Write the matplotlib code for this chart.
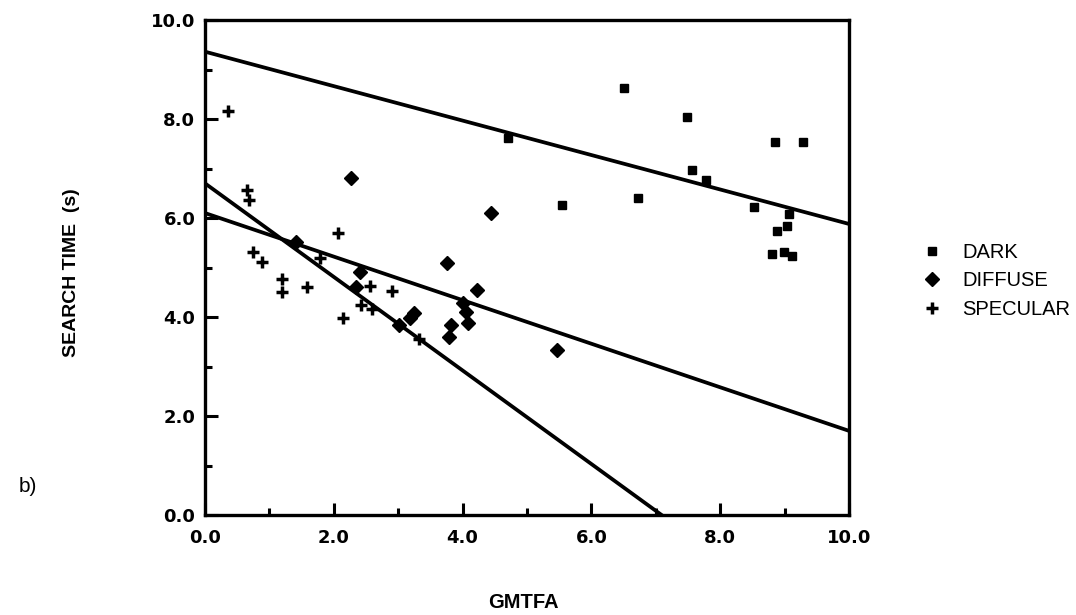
import numpy as np
import matplotlib
matplotlib.use("Agg")
import matplotlib.pyplot as plt
from matplotlib.ticker import MultipleLocator, FormatStrFormatter

plt.rcParams['font.family'] = ['Liberation Sans', 'DejaVu Sans']

# search time vs GMTFA, three lighting conditions
dark_x = [4.70, 5.55, 6.51, 6.72, 7.49, 7.56, 7.78, 8.52, 8.85, 9.29,
          8.88, 9.03, 9.07, 8.80, 8.99, 9.11]
dark_y = [7.62, 6.26, 8.62, 6.40, 8.05, 6.97, 6.77, 6.23, 7.54, 7.54,
          5.74, 5.84, 6.08, 5.27, 5.32, 5.23]

diffuse_x = [2.26, 1.41, 2.40, 2.35, 3.01, 3.18, 3.24, 3.75, 4.23, 4.00,
             4.05, 4.08, 3.82, 3.79, 4.44, 5.47]
diffuse_y = [6.80, 5.52, 4.90, 4.60, 3.84, 3.98, 4.08, 5.10, 4.55, 4.29,
             4.11, 3.87, 3.84, 3.60, 6.11, 3.33]

specular_x = [0.36, 0.65, 0.69, 0.74, 0.89, 1.19, 1.19, 1.59, 1.79, 2.07,
              2.14, 2.43, 2.56, 2.60, 2.90, 3.32]
specular_y = [8.16, 6.57, 6.36, 5.32, 5.12, 4.76, 4.51, 4.61, 5.19, 5.70,
              3.97, 4.24, 4.63, 4.16, 4.53, 3.55]

# fitted lines (intercept, slope)
dark_fit = (9.36, -0.348)
diffuse_fit = (6.10, -0.44)
specular_fit = (6.70, -0.945)

fig = plt.figure(figsize=(10.76, 6.15), dpi=100)
ax = fig.add_axes([205/1076, 100/615, 644/1076, 495/615])

xs = np.linspace(0, 10, 200)
for b0, b1 in (dark_fit, diffuse_fit, specular_fit):
    ax.plot(xs, b0 + b1*xs, color='black', lw=2.7, zorder=2)

ax.plot(dark_x, dark_y, 's', color='black', ms=6, ls='none', label='DARK', zorder=3)
ax.plot(diffuse_x, diffuse_y, 'D', color='black', ms=7.5, ls='none', label='DIFFUSE', zorder=3)
ax.plot(specular_x, specular_y, '+', color='black', ms=9, mew=2.5, ls='none', label='SPECULAR', zorder=3)

ax.set_xlim(0, 10)
ax.set_ylim(0, 10)
ax.xaxis.set_major_locator(MultipleLocator(2))
ax.xaxis.set_minor_locator(MultipleLocator(1))
ax.yaxis.set_major_locator(MultipleLocator(2))
ax.yaxis.set_minor_locator(MultipleLocator(1))
ax.xaxis.set_major_formatter(FormatStrFormatter('%.1f'))
ax.yaxis.set_major_formatter(FormatStrFormatter('%.1f'))
ax.tick_params(which='both', direction='in', top=False, right=False, width=2.2)
ax.tick_params(which='major', length=9)
ax.tick_params(which='minor', length=5)
ax.tick_params(axis='x', which='major', pad=10)
ax.tick_params(axis='y', which='major', pad=7)
for lab in ax.get_xticklabels() + ax.get_yticklabels():
    lab.set_fontfamily('DejaVu Sans')
    lab.set_fontsize(13)
    lab.set_fontweight('bold')
for sp in ax.spines.values():
    sp.set_linewidth(2.4)

leg = ax.legend(loc='center left', bbox_to_anchor=(914/1076, 1 - 281/615),
                bbox_transform=fig.transFigure, frameon=False, fontsize=14.5,
                handlelength=1.0, handletextpad=1.0, labelspacing=0.45,
                borderaxespad=0)

fig.text(71/1076, 1 - 273/615, 'SEARCH TIME  (s)', rotation=90, ha='center',
         va='center', fontsize=14, fontweight='bold')
fig.text(523/1076, 1 - 602/615, 'GMTFA', ha='center', va='center',
         fontsize=14.5, fontweight='bold')
fig.text(28/1076, 1 - 487/615, 'b)', ha='center', va='center', fontsize=15)

fig.savefig('out.png', dpi=100)
